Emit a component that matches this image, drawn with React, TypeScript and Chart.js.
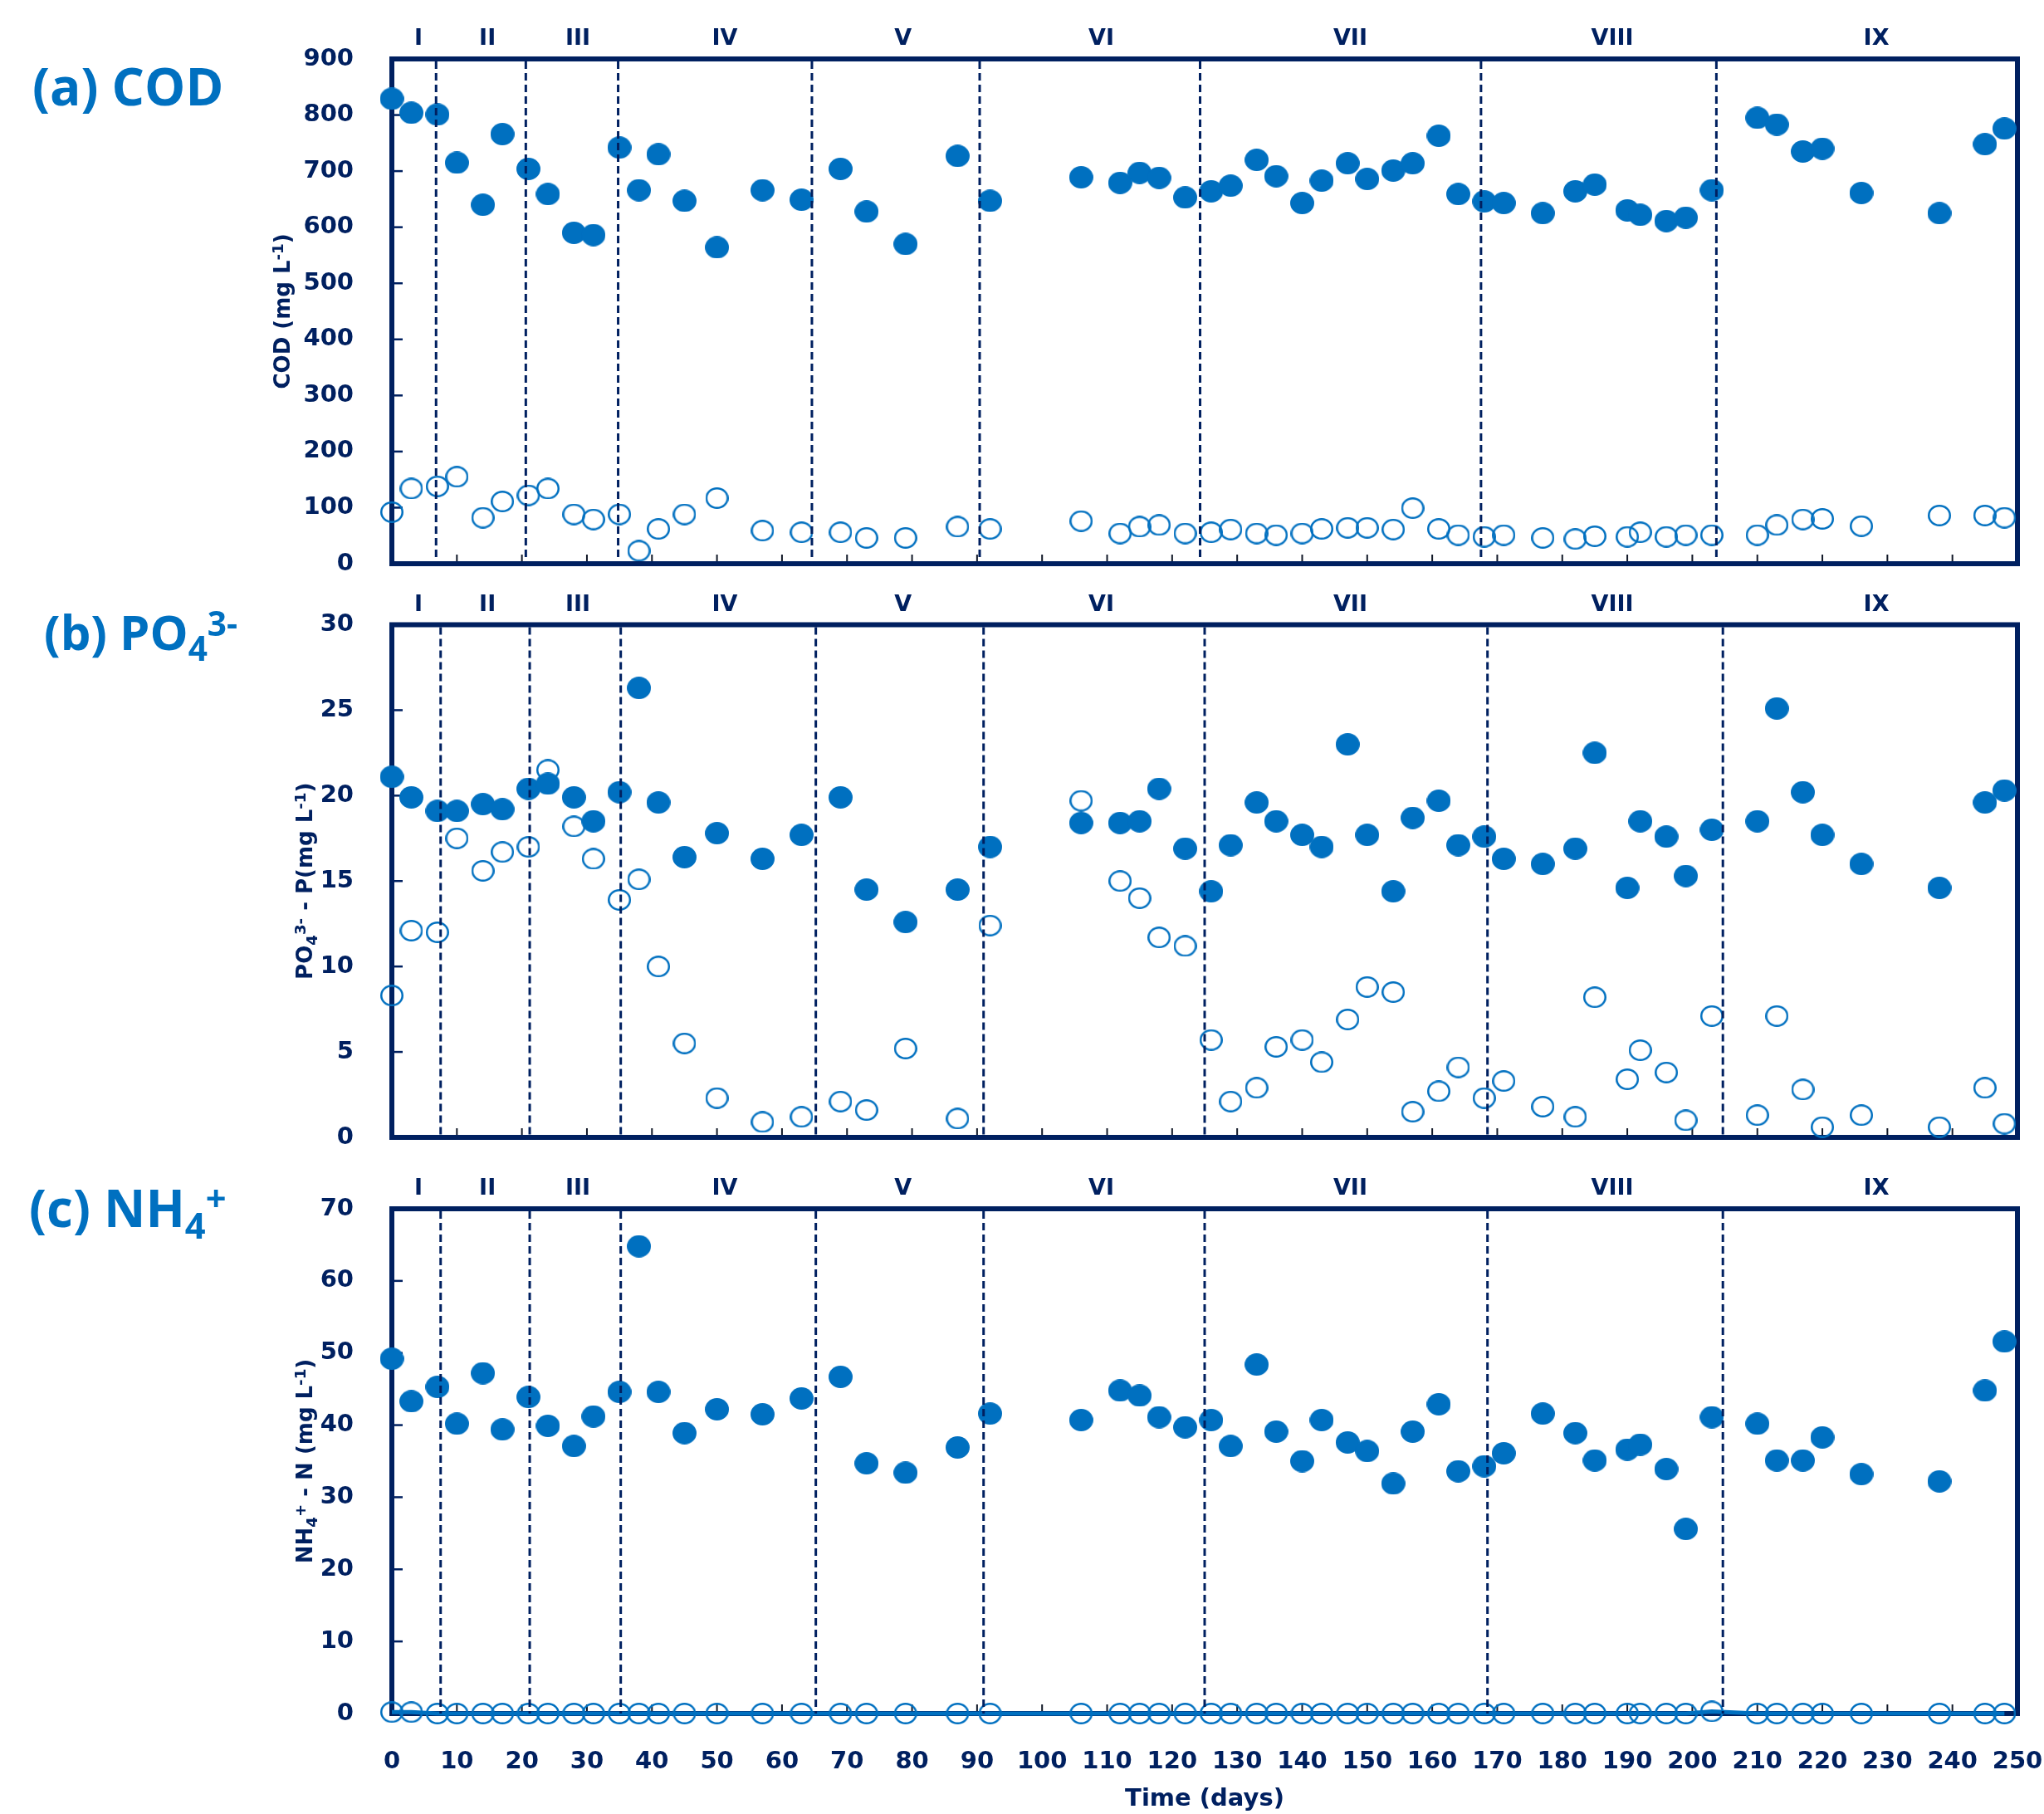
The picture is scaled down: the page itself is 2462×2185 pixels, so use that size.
import React, { useEffect, useRef } from 'react';
import { Chart, registerables } from 'chart.js';

Chart.register(...registerables);

// ---------------- DATA ----------------
const days = [0, 3, 7, 10, 14, 17, 21, 24, 28, 31, 35, 38, 41, 45, 50, 57, 63, 69, 73, 79, 87, 92,
  106, 112, 115, 118, 122, 126, 129, 133, 136, 140, 143, 147, 150, 154, 157, 161, 164, 168, 171, 177,
  182, 185, 190, 192, 196, 199, 203, 210, 213, 217, 220, 226, 238, 245, 248];

const codInfluent = [829, 804, 801, 715, 640, 766, 704, 659, 590, 586, 742, 666, 730, 647, 564, 666, 649, 704, 628, 570, 727, 647,
  689, 679, 697, 688, 653, 664, 674, 720, 691, 643, 683, 714, 686, 701, 714, 763, 659, 646, 643, 625,
  664, 676, 630, 622, 611, 617, 666, 795, 783, 735, 740, 661, 625, 748, 776];
const codEffluent = [92, 134, 138, 155, 82, 111, 122, 134, 88, 79, 88, 23, 62, 88, 117, 59, 56, 56, 46, 46, 66, 62,
  76, 54, 66, 69, 54, 56, 61, 54, 51, 54, 62, 64, 64, 61, 99, 62, 51, 48, 51, 46,
  44, 49, 48, 56, 48, 51, 51, 51, 69, 79, 80, 67, 86, 86, 82];

const phosInfluent = [21.1, 19.9, 19.1, 19.1, 19.5, 19.2, 20.4, 20.7, 19.9, 18.5, 20.2, 26.3, 19.6, 16.4, 17.8, 16.3, 17.7, 19.9, 14.5, 12.6, 14.5, 17.0,
  18.4, 18.4, 18.5, 20.4, 16.9, 14.4, 17.1, 19.6, 18.5, 17.7, 17.0, 23.0, 17.7, 14.4, 18.7, 19.7, 17.1, 17.6, 16.3, 16.0,
  16.9, 22.5, 14.6, 18.5, 17.6, 15.3, 18.0, 18.5, 25.1, 20.2, 17.7, 16.0, 14.6, 19.6, 20.3];
const phosEffluent = [8.3, 12.1, 12.0, 17.5, 15.6, 16.7, 17.0, 21.5, 18.2, 16.3, 13.9, 15.1, 10.0, 5.5, 2.3, 0.9, 1.2, 2.1, 1.6, 5.2, 1.1, 12.4,
  19.7, 15.0, 14.0, 11.7, 11.2, 5.7, 2.1, 2.9, 5.3, 5.7, 4.4, 6.9, 8.8, 8.5, 1.5, 2.7, 4.1, 2.3, 3.3, 1.8,
  1.2, 8.2, 3.4, 5.1, 3.8, 1.0, 7.1, 1.3, 7.1, 2.8, 0.6, 1.3, 0.6, 2.9, 0.8];

const ammInfluent = [49.2, 43.3, 45.3, 40.2, 47.2, 39.4, 43.9, 39.9, 37.1, 41.2, 44.6, 64.8, 44.6, 38.9, 42.2, 41.5, 43.7, 46.7, 34.7, 33.4, 36.9, 41.6,
  40.7, 44.8, 44.1, 41.1, 39.7, 40.7, 37.1, 48.4, 39.1, 35.0, 40.7, 37.6, 36.4, 31.9, 39.1, 42.9, 33.6, 34.3, 36.1, 41.6,
  38.9, 35.1, 36.6, 37.3, 33.9, 25.6, 41.1, 40.2, 35.1, 35.1, 38.3, 33.2, 32.2, 44.8, 51.6];
const ammEffluent = [0.2, 0.2, 0, 0, 0, 0, 0, 0, 0, 0, 0, 0, 0, 0, 0, 0, 0, 0, 0, 0, 0, 0,
  0, 0, 0, 0, 0, 0, 0, 0, 0, 0, 0, 0, 0, 0, 0, 0, 0, 0, 0, 0,
  0, 0, 0, 0, 0, 0, 0.3, 0, 0, 0, 0, 0, 0, 0, 0];

const phaseLabels = ['I', 'II', 'III', 'IV', 'V', 'VI', 'VII', 'VIII', 'IX'];
const phaseLabelDays = [4.1, 14.7, 28.6, 51.2, 78.6, 109.1, 147.4, 187.7, 228.3];
const phaseBoundariesA = [6.8, 20.6, 34.8, 64.6, 90.4, 124.3, 167.5, 203.7];
const phaseBoundariesBC = [7.5, 21.2, 35.2, 65.2, 91.0, 125.0, 168.5, 204.7];

const xMax = 250;
const xStep = 10;
const codMax = 900, codStep = 100;
const phosMax = 30, phosStep = 5;
const ammMax = 70, ammStep = 10;

// ---------------- STYLE ----------------
const W = 2462;
const NAVY = '#002060';
const BLUE = '#0070C0';
const TICK_FONT = { family: 'DejaVu Sans', weight: 'bold' as const, size: 29 };

type Seg = { t: string; k?: 'sup' | 'sub' };

function drawRich(ctx: CanvasRenderingContext2D, segs: Seg[], x: number, y: number, size: number,
  family: string, color: string, align: 'left' | 'center') {
  const parts = segs.map((s) => {
    const fs = s.k ? size * 0.7 : size;
    ctx.font = `bold ${fs}px "${family}"`;
    return { ...s, fs, w: ctx.measureText(s.t).width };
  });
  const total = parts.reduce((a, p) => a + p.w, 0);
  let cx = align === 'center' ? x - total / 2 : x;
  ctx.fillStyle = color;
  ctx.textBaseline = 'alphabetic';
  ctx.textAlign = 'left';
  for (const p of parts) {
    ctx.font = `bold ${p.fs}px "${family}"`;
    const dy = p.k === 'sup' ? -size * 0.3 : p.k === 'sub' ? size * 0.22 : 0;
    ctx.fillText(p.t, cx, y + dy);
    cx += p.w;
  }
}

function makeEllipse(w: number, h: number, filled: boolean, lw: number) {
  const c = document.createElement('canvas');
  c.width = w;
  c.height = h;
  const g = c.getContext('2d')!;
  g.beginPath();
  if (filled) {
    g.ellipse(w / 2, h / 2, w / 2, h / 2, 0, 0, Math.PI * 2);
    g.fillStyle = BLUE;
    g.fill();
  } else {
    g.ellipse(w / 2, h / 2, w / 2 - lw / 2, h / 2 - lw / 2, 0, 0, Math.PI * 2);
    g.strokeStyle = BLUE;
    g.lineWidth = lw;
    g.stroke();
  }
  return c;
}

type PanelCfg = {
  top: number; height: number; chartTop: number; chartBottom: number;
  yMax: number; yStep: number; inf: number[]; eff: number[]; effLine: boolean;
  boundaries: number[]; label: Seg[]; labelX: number; labelBaseline: number; labelSize: number;
  yTitle: Seg[]; yTitleX: number; showX: boolean;
};

const panels: PanelCfg[] = [
  {
    top: 0, height: 700, chartTop: 71, chartBottom: 679, yMax: codMax, yStep: codStep,
    inf: codInfluent, eff: codEffluent, effLine: false, boundaries: phaseBoundariesA,
    label: [{ t: '(a) COD' }], labelX: 39, labelBaseline: 127, labelSize: 62,
    yTitle: [{ t: 'COD (mg L' }, { t: '-1', k: 'sup' }, { t: ')' }], yTitleX: 349, showX: false,
  },
  {
    top: 700, height: 720, chartTop: 752.5, chartBottom: 1370, yMax: phosMax, yStep: phosStep,
    inf: phosInfluent, eff: phosEffluent, effLine: false, boundaries: phaseBoundariesBC,
    label: [{ t: '(b) PO' }, { t: '4', k: 'sub' }, { t: '3-', k: 'sup' }], labelX: 53, labelBaseline: 783, labelSize: 58,
    yTitle: [{ t: 'PO' }, { t: '4', k: 'sub' }, { t: '3-', k: 'sup' }, { t: ' - P(mg L' }, { t: '-1', k: 'sup' }, { t: ')' }],
    yTitleX: 376, showX: false,
  },
  {
    top: 1400, height: 785, chartTop: 1456, chartBottom: 2064, yMax: ammMax, yStep: ammStep,
    inf: ammInfluent, eff: ammEffluent, effLine: true, boundaries: phaseBoundariesBC,
    label: [{ t: '(c) NH' }, { t: '4', k: 'sub' }, { t: '+', k: 'sup' }], labelX: 35, labelBaseline: 1478, labelSize: 62,
    yTitle: [{ t: 'NH' }, { t: '4', k: 'sub' }, { t: '+', k: 'sup' }, { t: ' - N (mg L' }, { t: '-1', k: 'sup' }, { t: ')' }],
    yTitleX: 376, showX: true,
  },
];

function makePlugin(cfg: PanelCfg) {
  return {
    id: 'decorations',
    beforeDatasetsDraw(chart: any) {
      const { ctx, chartArea: a, scales } = chart;
      ctx.save();
      ctx.strokeStyle = NAVY;
      ctx.lineWidth = 2.5;
      for (const t of scales.y.ticks) {
        const py = scales.y.getPixelForValue(t.value);
        ctx.beginPath();
        ctx.moveTo(a.left, py);
        ctx.lineTo(a.left + 13, py);
        ctx.stroke();
      }
      ctx.strokeStyle = '#111827';
      ctx.lineWidth = 2;
      for (const t of scales.x.ticks) {
        const px = scales.x.getPixelForValue(t.value);
        ctx.beginPath();
        ctx.moveTo(px, a.bottom);
        ctx.lineTo(px, a.bottom - 11);
        ctx.stroke();
      }
      ctx.strokeStyle = NAVY;
      ctx.lineWidth = 6;
      ctx.strokeRect(a.left, a.top, a.right - a.left, a.bottom - a.top);
      ctx.restore();
    },
    afterDatasetsDraw(chart: any) {
      const { ctx, chartArea: a, scales } = chart;
      ctx.save();
      ctx.strokeStyle = NAVY;
      ctx.lineWidth = 3;
      ctx.setLineDash([9, 5]);
      for (const d of cfg.boundaries) {
        const px = scales.x.getPixelForValue(d);
        ctx.beginPath();
        ctx.moveTo(px, a.top + 3);
        ctx.lineTo(px, a.bottom);
        ctx.stroke();
      }
      ctx.restore();
    },
    afterDraw(chart: any) {
      const { ctx, chartArea: a, scales } = chart;
      ctx.save();
      ctx.fillStyle = NAVY;
      ctx.font = 'bold 27px "DejaVu Sans"';
      ctx.textAlign = 'center';
      ctx.textBaseline = 'alphabetic';
      phaseLabels.forEach((lab, i) => {
        ctx.fillText(lab, scales.x.getPixelForValue(phaseLabelDays[i]), a.top - 17);
      });
      drawRich(ctx, cfg.label, cfg.labelX, cfg.labelBaseline - cfg.top, cfg.labelSize, 'Open Sans', BLUE, 'left');
      ctx.save();
      ctx.translate(cfg.yTitleX, (a.top + a.bottom) / 2);
      ctx.rotate(-Math.PI / 2);
      drawRich(ctx, cfg.yTitle, 0, 0, 26, 'DejaVu Sans', NAVY, 'center');
      ctx.restore();
      ctx.restore();
    },
  };
}

function Panel({ cfg }: { cfg: PanelCfg }) {
  const ref = useRef<HTMLCanvasElement>(null);
  useEffect(() => {
    const filledImg = makeEllipse(29, 27, true, 0);
    const openImg = makeEllipse(28, 26, false, 2.5);
    const topLocal = cfg.chartTop - cfg.top;
    const xHeight = cfg.height - (cfg.chartBottom - cfg.top);
    const chart = new Chart(ref.current!, {
      type: 'scatter',
      data: {
        datasets: [
          {
            label: 'Influent',
            data: days.map((d, i) => ({ x: d, y: cfg.inf[i] })),
            pointStyle: filledImg as any,
            pointRadius: 14,
            showLine: false,
            clip: false as any,
            borderColor: BLUE,
            backgroundColor: BLUE,
          },
          {
            label: 'Effluent',
            data: days.map((d, i) => ({ x: d, y: cfg.eff[i] })),
            pointStyle: openImg as any,
            pointRadius: 14,
            showLine: cfg.effLine,
            borderColor: BLUE,
            backgroundColor: 'rgba(0,0,0,0)',
            borderWidth: 5,
            fill: false,
            tension: 0,
            clip: false as any,
          },
        ],
      },
      options: {
        responsive: false,
        animation: false,
        devicePixelRatio: 1,
        events: [],
        layout: { autoPadding: false, padding: { left: 0, right: 32, top: topLocal, bottom: 0 } },
        plugins: { legend: { display: false }, tooltip: { enabled: false } },
        scales: {
          x: {
            type: 'linear',
            min: 0,
            max: xMax,
            ticks: {
              stepSize: xStep,
              display: cfg.showX,
              autoSkip: false,
              maxRotation: 0,
              padding: 33,
              color: NAVY,
              font: TICK_FONT,
            },
            grid: { display: false },
            border: { display: false },
            title: {
              display: cfg.showX,
              text: 'Time (days)',
              color: NAVY,
              font: TICK_FONT,
              padding: { top: 0, bottom: 0 },
            },
            afterFit: (s: any) => {
              s.height = xHeight;
              s.paddingLeft = 0;
              s.paddingRight = 0;
              s.paddingTop = 0;
              s.paddingBottom = 0;
            },
          },
          y: {
            type: 'linear',
            min: 0,
            max: cfg.yMax,
            ticks: { stepSize: cfg.yStep, padding: 38, color: NAVY, font: TICK_FONT },
            grid: { display: false },
            border: { display: false },
            afterFit: (s: any) => {
              s.width = 472;
              s.paddingTop = 0;
              s.paddingBottom = 0;
              s.paddingLeft = 0;
              s.paddingRight = 0;
            },
          },
        },
      },
      plugins: [makePlugin(cfg)],
    } as any);
    return () => chart.destroy();
  }, [cfg]);
  return (
    <canvas
      ref={ref}
      width={W}
      height={cfg.height}
      style={{ position: 'absolute', left: 0, top: cfg.top, width: W, height: cfg.height }}
    />
  );
}

export default function App() {
  useEffect(() => {
    document.body.style.margin = '0';
    document.body.style.overflow = 'hidden';
  }, []);
  return (
    <div style={{ position: 'absolute', left: 0, top: 0, width: W, height: 2185, background: '#ffffff', overflow: 'hidden' }}>
      {panels.map((p, i) => (
        <Panel key={i} cfg={p} />
      ))}
    </div>
  );
}
